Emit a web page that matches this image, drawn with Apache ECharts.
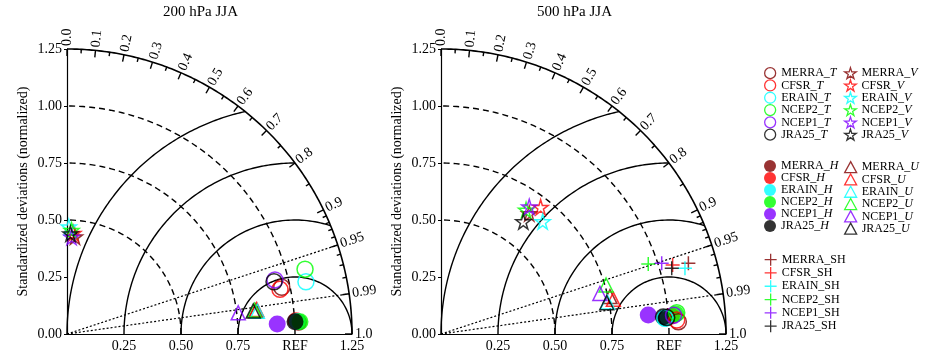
<!DOCTYPE html>
<html><head><meta charset="utf-8">
<script src="https://cdn.jsdelivr.net/npm/echarts@6/dist/echarts.min.js"></script>
<style>html,body{margin:0;padding:0;background:#fff}#c{width:936px;height:356px}</style>
</head><body><div id="c"></div>
<script>
// ---------- data ----------
const products = ['MERRA', 'CFSR', 'ERAIN', 'NCEP2', 'NCEP1', 'JRA25'];
const panelTitles = ['200 hPa JJA', '500 hPa JJA'];
const yTickLabels = ['0.00', '0.25', '0.50', '0.75', '1.00', '1.25'];
const xTickLabels = ['', '0.25', '0.50', '0.75', 'REF', '1.25'];
const corrMajor = [0.0, 0.1, 0.2, 0.3, 0.4, 0.5, 0.6, 0.7, 0.8, 0.9, 0.95, 0.99, 1.0];
const corrMajorLabels = ['0.0', '0.1', '0.2', '0.3', '0.4', '0.5', '0.6', '0.7', '0.8', '0.9', '0.95', '0.99', '1.0'];
const corrMinor = [0.05, 0.15, 0.25, 0.35, 0.45, 0.55, 0.65, 0.75, 0.85, 0.91, 0.92, 0.93, 0.94, 0.96, 0.97, 0.98];
const stdArcs = [0.5, 0.75, 1.0];
const rmsArcs = [0.25, 0.5, 0.75, 1.0];
const corrLines = [0.95, 0.99];
const outerStd = 1.25;

// points: [x, y] in standardized-deviation units, order = products
const T200 = [[0.942, 0.205], [0.934, 0.196], [1.048, 0.229], [1.044, 0.284], [0.912, 0.237], [0.908, 0.229]];
const V200 = [[0.035, 0.427], [0.028, 0.442], [0.008, 0.470], [0.020, 0.455], [0.020, 0.425], [0.015, 0.440]];
const H200 = [[1.015, 0.051], [1.004, 0.058], [1.010, 0.055], [1.022, 0.054], [0.922, 0.044], [1.000, 0.054]];
const U200 = [[0.828, 0.102], [0.832, 0.108], [0.835, 0.100], [0.822, 0.105], [0.751, 0.093], [0.817, 0.101]];

const T500 = [[1.041, 0.054], [1.034, 0.061], [0.982, 0.069], [1.034, 0.093], [1.020, 0.082], [0.990, 0.072]];
const V500 = [[0.387, 0.529], [0.437, 0.556], [0.446, 0.493], [0.373, 0.544], [0.387, 0.558], [0.361, 0.493]];
const H500 = [[0.993, 0.073], [1.010, 0.078], [0.985, 0.070], [1.030, 0.088], [0.909, 0.083], [0.975, 0.076]];
const U500 = [[0.741, 0.164], [0.756, 0.152], [0.730, 0.140], [0.724, 0.215], [0.697, 0.178], [0.727, 0.137]];
const SH500 = [[1.085, 0.310], [1.016, 0.303], [1.070, 0.288], [0.909, 0.307], [0.968, 0.310], [1.012, 0.288]];

// ---------- styles ----------
const colors = ['#800000', '#ff0000', '#00ffff', '#00ff00', '#8000ff', '#000000'];
const FONT = 'Liberation Serif';
const starPath = 'path://M50,0 L61,35 L98,35 L68,57 L79,91 L50,70 L21,91 L32,57 L2,35 L39,35 Z';
const crossPath = 'path://M0,50 L100,50 M50,0 L50,100';
const varStyle = {
  H: { symbol: 'circle', size: 17, filled: true },
  T: { symbol: 'circle', size: 16, filled: false },
  U: { symbol: 'triangle', size: 14, filled: false },
  V: { symbol: starPath, size: 15, filled: false },
  SH: { symbol: crossPath, size: 14, filled: false }
};
const panels = [
  { vars: { H: H200, T: T200, U: U200, V: V200 } },
  { vars: { H: H500, T: T500, U: U500, V: V500, SH: SH500 } }
];
const grids = [
  { left: 67, top: 49, width: 285, height: 285 },
  { left: 441, top: 49, width: 285, height: 285 }
];

// ---------- geometry helpers (grid lines) ----------
function stdArc(r) {
  const pts = [];
  for (let i = 0; i <= 180; i++) { const a = Math.PI / 2 * i / 180; pts.push([r * Math.cos(a), r * Math.sin(a)]); }
  return pts;
}
function rmsArc(R) {
  const xi = (outerStd * outerStd - R * R + 1) / 2;
  let a0 = 0;
  if (1 + R > outerStd) { const yi = Math.sqrt(outerStd * outerStd - xi * xi); a0 = Math.atan2(yi, xi - 1); }
  const pts = [];
  for (let i = 0; i <= 240; i++) { const a = a0 + (Math.PI - a0) * i / 240; pts.push([1 + R * Math.cos(a), R * Math.sin(a)]); }
  return pts;
}
function corrLine(c) { return [[0, 0], [outerStd * c, outerStd * Math.sqrt(1 - c * c)]]; }

const series = [];
grids.forEach((g, gi) => {
  const base = { type: 'line', xAxisIndex: gi, yAxisIndex: gi, symbol: 'none', silent: true, z: 1, animation: false, clip: false };
  stdArcs.forEach(r => series.push(Object.assign({}, base, { name: '_std', data: stdArc(r), lineStyle: { color: '#000', width: 1.4, type: [6, 4] } })));
  series.push(Object.assign({}, base, { name: '_outer', data: stdArc(outerStd), lineStyle: { color: '#000', width: 1.6 } }));
  rmsArcs.forEach(r => series.push(Object.assign({}, base, { name: '_rms', data: rmsArc(r), lineStyle: { color: '#000', width: 1.4 } })));
  corrLines.forEach(c => series.push(Object.assign({}, base, { name: '_corr', data: corrLine(c), lineStyle: { color: '#000', width: 1.2, type: [2, 2] } })));
  const ticks = corrMajor.map((c, i) => ({ value: [c, 1], label: corrMajorLabels[i] }))
    .concat(corrMinor.map(c => ({ value: [c, 0], label: '' })));
  series.push({
    type: 'custom', name: '_ticks', xAxisIndex: gi, yAxisIndex: gi, silent: true, clip: false, z: 2, animation: false,
    data: ticks,
    renderItem: (params, api) => {
      const c = api.value(0), major = api.value(1);
      const th = Math.acos(Math.min(1, c));
      const p = api.coord([outerStd * Math.cos(th), outerStd * Math.sin(th)]);
      const dx = Math.cos(th), dy = -Math.sin(th);
      const len = major ? 7 : 4;
      const children = [{ type: 'line', shape: { x1: p[0], y1: p[1], x2: p[0] - dx * len, y2: p[1] - dy * len }, style: { stroke: '#000', lineWidth: 1.4 } }];
      const lab = ticks[params.dataIndex].label;
      if (major && lab) {
        children.push({ type: 'text', x: p[0] + dx * 3, y: p[1] + dy * 3, rotation: th,
          style: { text: lab, fill: '#000', font: '14px "' + FONT + '"', align: 'left', verticalAlign: 'middle' } });
      }
      return { type: 'group', children };
    }
  });
  const vars = panels[gi].vars;
  Object.keys(vars).forEach(v => {
    const st = varStyle[v];
    vars[v].forEach((pt, pi) => {
      series.push({
        type: 'scatter', name: products[pi] + '_' + v, xAxisIndex: gi, yAxisIndex: gi, z: 5, animation: false,
        symbol: st.symbol, symbolSize: st.size, data: [pt],
        itemStyle: st.filled ? { color: colors[pi] } : { color: 'rgba(0,0,0,0)', borderColor: colors[pi], borderWidth: 1.5 }
      });
    });
  });
});

const legendText = { fontFamily: FONT, fontSize: 12, color: '#000', lineHeight: 10,
  rich: { n: { fontFamily: FONT, fontSize: 12, lineHeight: 10, color: '#000' },
          i: { fontFamily: FONT, fontSize: 12, lineHeight: 10, fontStyle: 'italic', color: '#000' } } };
function legendFmt(name) {
  const k = name.lastIndexOf('_');
  const v = name.slice(k + 1);
  if (v === 'SH') return '{n|' + name + '}';
  return '{n|' + name.slice(0, k + 1) + '}{i|' + v + '}';
}
function mkLegend(v, left, top, size) {
  return { data: products.map(p => p + '_' + v), left, top, orient: 'vertical', itemGap: 0, itemWidth: 12, itemHeight: size,
    padding: 0, selectedMode: false, formatter: legendFmt, textStyle: legendText,
    itemStyle: { borderWidth: 1.3 } };
}

const option = {
  backgroundColor: '#fff',
  animation: false,
  title: panelTitles.map((t, i) => ({ text: t, left: i === 0 ? 163 : 537, top: 5, padding: 0,
    textStyle: { fontFamily: FONT, fontSize: 15, fontWeight: 'normal', color: '#000' } })),
  legend: [mkLegend('T', 764, 67, 11), mkLegend('V', 844, 67, 11), mkLegend('H', 764, 160, 12), mkLegend('U', 844, 161, 11), mkLegend('SH', 764, 253, 12)],
  grid: grids,
  xAxis: grids.map((g, i) => ({
    type: 'value', gridIndex: i, min: 0, max: outerStd, interval: 0.25,
    axisLine: { onZero: false, lineStyle: { color: '#000', width: 1.2 } }, axisTick: { show: false }, splitLine: { show: false },
    axisLabel: { formatter: val => xTickLabels[Math.round(val / 0.25)], color: '#000', fontFamily: FONT, fontSize: 14, margin: 5, showMinLabel: true, showMaxLabel: true }
  })),
  yAxis: grids.map((g, i) => ({
    type: 'value', gridIndex: i, min: 0, max: outerStd, interval: 0.25,
    name: 'Standardized deviations (normalized)', nameLocation: 'middle', nameGap: 37,
    nameTextStyle: { fontFamily: FONT, fontSize: 14, color: '#000' },
    axisLine: { onZero: false, lineStyle: { color: '#000', width: 1.2 } }, axisTick: { show: true, length: 3, lineStyle: { color: '#000' } }, splitLine: { show: false },
    axisLabel: { formatter: val => yTickLabels[Math.round(val / 0.25)], color: '#000', fontFamily: FONT, fontSize: 14, margin: 5, showMinLabel: true, showMaxLabel: true }
  })),
  series
};
const chart = echarts.init(document.getElementById('c'), null, { renderer: 'canvas' });
chart.setOption(option);
</script></body></html>
